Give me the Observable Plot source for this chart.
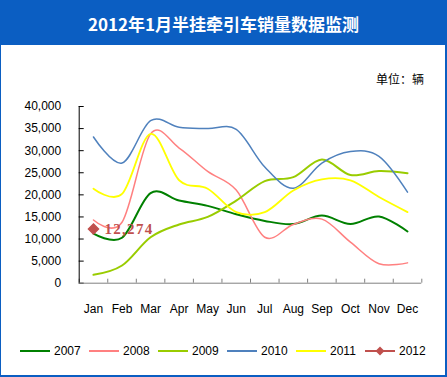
<!DOCTYPE html>
<html><head><meta charset="utf-8">
<script src="https://cdn.jsdelivr.net/npm/d3@7"></script>
<script src="https://cdn.jsdelivr.net/npm/@observablehq/plot@0.6"></script>
<style>
body{margin:0;background:#fff;}
#wrap{position:relative;width:447px;height:377px;overflow:hidden;font-family:"Liberation Sans",Arial,sans-serif;background:#fff;}
#title{position:absolute;left:0;top:0;width:447px;height:45px;background:#0b5ec2;color:#fff;font:bold 17px "Noto Sans CJK SC",sans-serif;display:flex;align-items:center;justify-content:center;padding-top:1px;box-sizing:border-box;}
#frame{position:absolute;left:0;top:0;width:447px;height:377px;box-sizing:border-box;border-left:1px solid #0b5ec2;border-right:2px solid #0b5ec2;border-bottom:2px solid #0b5ec2;pointer-events:none;}
#unit{position:absolute;left:376px;top:70px;font:12px "Noto Sans CJK SC",sans-serif;color:#000;}
#chart{position:absolute;left:0;top:45px;}
#legend{position:absolute;left:20px;top:344px;display:flex;font:12px "Liberation Sans",Arial,sans-serif;color:#000;}
.item{display:flex;align-items:center;width:69px;}
.item svg{margin-right:4px;}
</style>
</head><body>
<div id="wrap">
  <div id="title">2012年1月半挂牵引车销量数据监测</div>
  <div id="unit">单位：辆</div>
  <div id="chart"></div>
  <div id="legend"></div>
  <div id="frame"></div>
</div>
<script>
const months = ["Jan","Feb","Mar","Apr","May","Jun","Jul","Aug","Sep","Oct","Nov","Dec"];
const years = ["2007","2008","2009","2010","2011","2012"];
const s2007 = [11200, 10300, 20400, 18700, 17500, 15600, 14100, 13400, 15300, 13400, 15100, 11700];
const s2008 = [14300, 13800, 33800, 30600, 25300, 21100, 10400, 13300, 14500, 9300, 4400, 4600];
const s2009 = [1900, 4000, 10400, 13300, 15000, 18700, 23100, 24000, 28000, 24500, 25400, 24900];
const s2010 = [33100, 27200, 36800, 35300, 35000, 34800, 26300, 21500, 27200, 29800, 28700, 20600];
const s2011 = [21400, 20200, 33800, 23300, 21400, 16100, 16100, 21000, 23500, 23300, 19500, 16100];
const s2012 = [12274];
const yTicks = [0, 5000, 10000, 15000, 20000, 25000, 30000, 35000, 40000];
const colors = ["#008000", "#ff8080", "#99cc00", "#4f81bd", "#ffff00", "#c0504d"];
const widths = [2, 1.5, 2, 1.5, 1.8, 1.5];

const series = [s2007, s2008, s2009, s2010, s2011, s2012];
const rows = [];
years.forEach((y, k) => series[k].forEach((v, i) => rows.push({year: y, m: i + 0.5, v})));
const fmt = d3.format(",");

const lineMarks = years.slice(0, 5).map((y, k) =>
  Plot.line(rows.filter(r => r.year === y), {
    x: "m", y: "v", stroke: colors[k], strokeWidth: widths[k], curve: "cardinal"
  })
);
const pts2012 = rows.filter(r => r.year === "2012");

const chart = Plot.plot({
  width: 447, height: 285,
  marginTop: 61, marginBottom: 47.3, marginLeft: 78.7, marginRight: 25.7,
  x: {domain: [0, 12], label: null},
  y: {domain: [0, 40000], label: null},
  style: {fontFamily: "'Liberation Sans', Arial, sans-serif", fontSize: "12px", color: "#000", background: "transparent"},
  marks: [
    Plot.axisY({ticks: yTicks, tickFormat: fmt, tickSize: -5, tickPadding: 23, stroke: "#000", label: null}),
    Plot.axisX({ticks: d3.range(13), tickSize: -4, fill: "none", stroke: "#808080", label: null}),
    Plot.axisX({ticks: months.map((_, i) => i + 0.5), tickFormat: d => months[Math.floor(d)], tickSize: 0, tickPadding: 21, label: null}),
    Plot.ruleY([0], {stroke: "#808080"}),
    Plot.ruleX([0], {stroke: "#000"}),
    ...lineMarks,
    Plot.dot(pts2012, {x: "m", y: "v", symbol: "diamond2", r: 4.5, fill: colors[5], stroke: colors[5]}),
    Plot.text(pts2012, {x: "m", y: "v", text: d => fmt(d.v), dx: 11, textAnchor: "start", fill: colors[5],
      fontFamily: "'Liberation Serif', serif", fontWeight: "bold", fontSize: 15})
  ]
});
d3.select(chart).selectAll("text").filter(function() { return this.textContent === fmt(s2012[0]); })
  .attr("letter-spacing", "1.3px");
document.getElementById("chart").appendChild(chart);

const legend = document.getElementById("legend");
years.forEach((y, k) => {
  const item = document.createElement("div");
  item.className = "item";
  const marker = k === 5 ? `<path d="M15,1.5L19.5,6L15,10.5L10.5,6Z" fill="${colors[k]}"/>` : "";
  item.innerHTML = `<svg width="30" height="12"><line x1="0" x2="30" y1="6" y2="6" stroke="${colors[k]}" stroke-width="2"/>${marker}</svg><span>${y}</span>`;
  legend.appendChild(item);
});
</script>
</body></html>
